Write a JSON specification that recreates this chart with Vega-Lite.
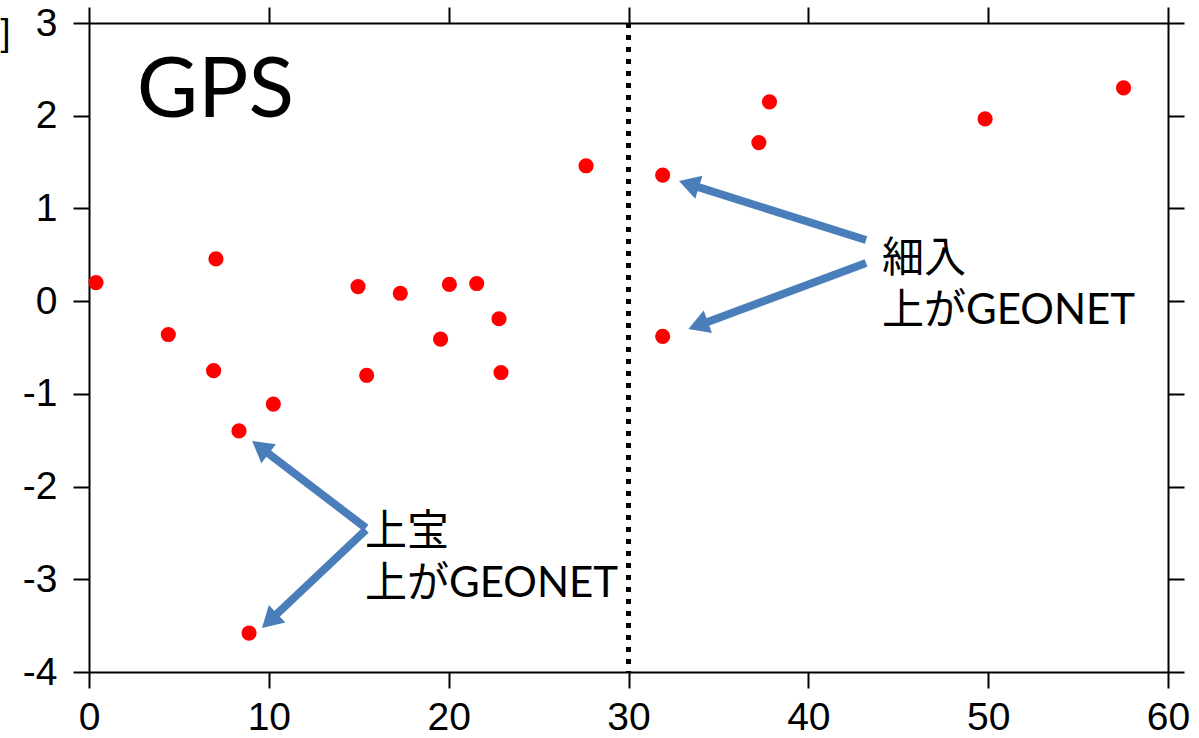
{
  "$schema": "https://vega.github.io/schema/vega-lite/v6.json",
  "width": 1079,
  "height": 649,
  "autosize": {"type": "none"},
  "padding": {"left": 89, "top": 23, "right": 31, "bottom": 66},
  "background": "white",
  "config": {
    "view": {"stroke": null},
    "axis": {
      "domainColor": "black",
      "domainWidth": 2,
      "tickColor": "black",
      "tickWidth": 2,
      "tickSize": 16,
      "labelFont": "Liberation Sans",
      "labelFontSize": 39,
      "labelColor": "black",
      "labelPadding": 10,
      "labelFlush": false,
      "labelOverlap": false,
      "labelExpr": "'' + datum.value",
      "grid": false
    }
  },
  "datasets": {
    "stations": [
      {"distance": 0.39, "dy": 0.2},
      {"distance": 4.41, "dy": -0.36},
      {"distance": 7.06, "dy": 0.455},
      {"distance": 6.93, "dy": -0.75},
      {"distance": 10.25, "dy": -1.11},
      {"distance": 8.34, "dy": -1.4},
      {"distance": 8.9, "dy": -3.58},
      {"distance": 14.96, "dy": 0.157},
      {"distance": 17.31, "dy": 0.085},
      {"distance": 20.04, "dy": 0.18},
      {"distance": 21.56, "dy": 0.19},
      {"distance": 22.8, "dy": -0.19},
      {"distance": 19.55, "dy": -0.41},
      {"distance": 15.44, "dy": -0.8},
      {"distance": 22.91, "dy": -0.77},
      {"distance": 27.64, "dy": 1.46},
      {"distance": 31.9, "dy": 1.36},
      {"distance": 31.9, "dy": -0.38},
      {"distance": 37.25, "dy": 1.71},
      {"distance": 37.84, "dy": 2.15},
      {"distance": 49.83, "dy": 1.965},
      {"distance": 57.53, "dy": 2.3}
    ],
    "arrows": [
      {"x1": 43.21, "y1": 0.659, "x2": 33.36, "y2": 1.262, "angle": 287.5},
      {"x1": 43.21, "y1": 0.411, "x2": 33.87, "y2": -0.262, "angle": 249.7},
      {"x1": 15.4, "y1": -2.447, "x2": 9.53, "y2": -1.577, "angle": 307.4},
      {"x1": 15.4, "y1": -2.468, "x2": 10.04, "y2": -3.449, "angle": 226.7}
    ],
    "notes": [
      {"x": 44.1, "y": 0.31, "text": "細入\n上がGEONET"},
      {"x": 15.35, "y": -2.63, "text": "上宝\n上がGEONET"}
    ],
    "title": [
      {"x": 2.65, "y": 1.986, "text": "GPS"}
    ],
    "divider": [
      {"x": 30}
    ]
  },
  "layer": [
    {
      "data": {"name": "divider"},
      "mark": {"type": "rule", "color": "black", "strokeWidth": 5, "strokeDash": [5, 7]},
      "encoding": {
        "x": {
          "field": "x",
          "type": "quantitative",
          "scale": {"domain": [0, 60], "nice": false, "zero": false},
          "axis": {"orient": "top", "labels": false, "values": [0, 10, 20, 30, 40, 50, 60], "title": null}
        }
      }
    },
    {
      "data": {"name": "stations"},
      "mark": {"type": "circle", "color": "#FF0000", "opacity": 1, "size": 230},
      "encoding": {
        "x": {
          "field": "distance",
          "type": "quantitative",
          "scale": {"domain": [0, 60], "nice": false, "zero": false},
          "axis": {"orient": "bottom", "values": [0, 10, 20, 30, 40, 50, 60], "title": null}
        },
        "y": {
          "field": "dy",
          "type": "quantitative",
          "scale": {"domain": [-4, 3], "nice": false, "zero": false},
          "axis": {
            "orient": "left",
            "values": [-4, -3, -2, -1, 0, 1, 2, 3],
            "labelPadding": 16,
            "title": "]",
            "titleAngle": 0,
            "titleFont": "Liberation Sans",
            "titleFontSize": 36,
            "titleFontWeight": "normal",
            "titleColor": "black",
            "titleAlign": "left",
            "titleBaseline": "top",
            "titleX": -89,
            "titleY": -7
          }
        }
      }
    },
    {
      "data": {"name": "arrows"},
      "mark": {"type": "rule", "color": "#4A7EBB", "strokeWidth": 8, "strokeCap": "butt"},
      "encoding": {
        "x": {"field": "x1", "type": "quantitative", "axis": null},
        "y": {"field": "y1", "type": "quantitative", "axis": null},
        "x2": {"field": "x2"},
        "y2": {"field": "y2"}
      }
    },
    {
      "data": {"name": "arrows"},
      "mark": {"type": "point", "shape": "triangle-up", "filled": true, "color": "#4A7EBB", "opacity": 1, "size": 576},
      "encoding": {
        "x": {"field": "x2", "type": "quantitative", "axis": null},
        "y": {"field": "y2", "type": "quantitative", "axis": null},
        "angle": {"field": "angle", "type": "quantitative", "scale": null}
      }
    },
    {
      "data": {"name": "notes"},
      "mark": {"type": "text", "font": "Lato, Noto Sans CJK JP", "fontSize": 42, "lineBreak": "\n", "lineHeight": 52, "color": "black", "align": "left", "baseline": "alphabetic"},
      "encoding": {
        "x": {"field": "x", "type": "quantitative", "axis": null},
        "y": {
          "field": "y",
          "type": "quantitative",
          "axis": {"orient": "right", "labels": false, "values": [-4, -3, -2, -1, 0, 1, 2, 3], "title": null}
        },
        "text": {"field": "text"}
      }
    },
    {
      "data": {"name": "title"},
      "mark": {"type": "text", "font": "Lato", "fontSize": 84, "color": "black", "align": "left", "baseline": "alphabetic"},
      "encoding": {
        "x": {"field": "x", "type": "quantitative", "axis": null},
        "y": {"field": "y", "type": "quantitative", "axis": null},
        "text": {"field": "text"}
      }
    }
  ],
  "resolve": {"axis": {"x": "independent", "y": "independent"}}
}
